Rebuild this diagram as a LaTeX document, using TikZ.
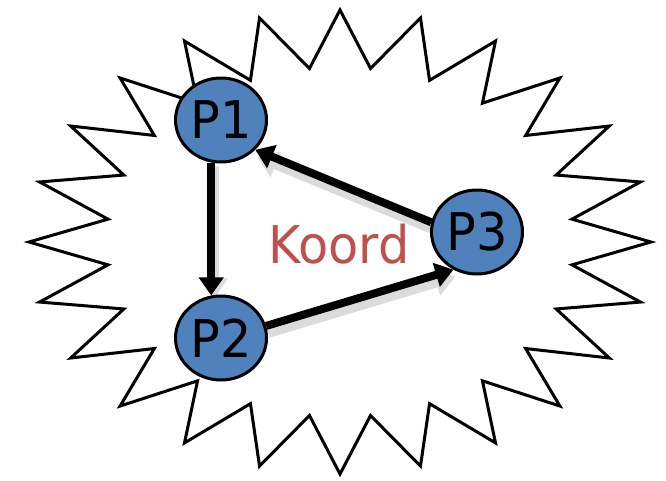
\documentclass[tikz,border=0pt]{standalone}
\usepackage{fontspec}
\newfontfamily\labelfont[FakeStretch=0.95]{DejaVu Sans}
\usetikzlibrary{arrows.meta,shapes.geometric,backgrounds}
\definecolor{procblue}{HTML}{4F81BD}
\definecolor{koordred}{HTML}{C0504D}

\begin{document}
\begin{tikzpicture}[x=1pt, y=-1pt,
    proc/.style ={ellipse, draw=black, line width=3pt, fill=procblue,
      minimum width=91pt, minimum height=84pt, inner sep=0pt,
      font={\labelfont\fontsize{52pt}{60pt}\selectfont}},
    label_koord/.style ={inner sep=0pt, anchor=base, text=koordred,
      font={\labelfont\fontsize{52pt}{60pt}\selectfont}},
    paths/.style={draw, black, line width=8pt,
      arrows={-Triangle[length=18pt, width=24pt]}},
    paths_shadow/.style={draw, black!14, line width=10pt,
      arrows={-Triangle[length=20pt, width=26pt]}}]
    \useasboundingbox (0,0) rectangle (666,480);
    % star outline, 24 spikes
    \begin{scope}[shift={(340,242)}]
      \draw[line width=3pt, line join=miter] (0:{311} and {232})
        \foreach \i [evaluate=\i as \rx using {isodd(\i) ? 234 : 311},
                     evaluate=\i as \ry using {isodd(\i) ? 175 : 232}] in {1,...,47}
        { -- (\i*7.5:{\rx} and {\ry}) } -- cycle;
    \end{scope}
    % processes
    \node[proc] (p1) at (221,120) {P1};
    \node[proc] (p2) at (221,338) {P2};
    \node[proc] (p3) at (477,232) {P3};
    \node[label_koord] (koord) at (339,263) {Koord};
    % shadows under the arrows
    \begin{scope}[on background layer, every path/.style=paths_shadow]
      \path ([xshift=3pt,yshift=-3pt]p1.257)--([xshift=3pt,yshift=-3pt]p2.103);
      \path ([xshift=2pt,yshift=-7pt]p3.168)--([xshift=2pt,yshift=-7pt]p1.319);
      \path ([xshift=2pt,yshift=-7pt]p2.15)--([xshift=2pt,yshift=-7pt]p3.238);
    \end{scope}
    % connecting the processes
    \begin{scope}[every path/.style=paths]
      \path (p1.257)--(p2.103);
      \path (p3.168)--(p1.319);
      \path (p2.15)--(p3.238);
    \end{scope}
\end{tikzpicture}
\end{document}
